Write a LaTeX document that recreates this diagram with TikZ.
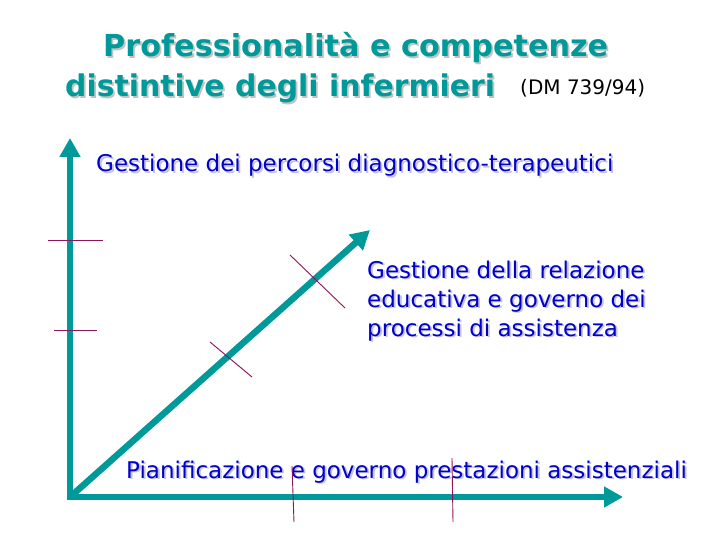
\documentclass[tikz,border=0pt]{standalone}
\usepackage{fontspec}
\setmainfont{DejaVu Sans}
\usetikzlibrary{arrows.meta}
\definecolor{teal1}{RGB}{0,153,153}
\definecolor{blue1}{RGB}{0,0,204}
\definecolor{tick1}{RGB}{140,20,90}
\definecolor{shadowT}{RGB}{195,195,195}
\definecolor{shadowB}{RGB}{195,195,220}
\newcommand{\shd}[2]{\makebox[0pt][l]{\hspace*{1.8pt}\raisebox{-1.8pt}{\color{#1}#2}}#2}
\begin{document}
\begin{tikzpicture}[x=1pt,y=-1pt,
  axis/.style={draw=teal1, line width=6.5pt},
  tipped/.style={-{Triangle[length=19pt,width=20pt]}},
  tickline/.style={draw=tick1, line width=0.9pt},
  bluetext/.style={anchor=base west, inner sep=0pt, text=blue1, font=\fontsize{23}{28}\selectfont},
  titletext/.style={anchor=base west, inner sep=0pt, text=teal1, font=\fontsize{31}{36}\selectfont\bfseries}]
\useasboundingbox[fill=white] (0,0) rectangle (720,540);

% title
\node[titletext] (title1) at (103,57) {\resizebox{505pt}{!}{\shd{shadowT}{Professionalità e competenze}}};
\node[titletext] (title2) at (65,97) {\resizebox{430pt}{!}{\shd{shadowT}{distintive degli infermieri}}};
\node[anchor=base west, inner sep=0pt, text=black, font=\fontsize{20}{24}\selectfont] (dm) at (520,95) {(DM 739/94)};

% axes
\coordinate (O) at (70,497);
\coordinate (Ytip) at (70,138);
\coordinate (Xtip) at (623,497);
\coordinate (Dtip) at (370,230);
\draw[axis, tipped, line cap=rect] (O) -- (Ytip);
\draw[axis, tipped, line cap=rect] (O) -- (Xtip);
\draw[axis, tipped] (O) -- (Dtip);

% labels
\node[bluetext] (lab1) at (96,172) {\shd{shadowB}{Gestione dei percorsi diagnostico-terapeutici}};
\node[bluetext] (lab2a) at (367,278) {\shd{shadowB}{Gestione della relazione}};
\node[bluetext] (lab2b) at (367,307) {\shd{shadowB}{educativa e governo dei}};
\node[bluetext] (lab2c) at (367,336) {\shd{shadowB}{processi di assistenza}};
\node[bluetext] (lab3) at (126,478) {\shd{shadowB}{Pianificazione e governo prestazioni assistenziali}};

% ticks
\coordinate (v1a) at (48,240);  \coordinate (v1b) at (103,240);
\coordinate (v2a) at (54,330);  \coordinate (v2b) at (97,330);
\coordinate (d1a) at (290,255); \coordinate (d1b) at (345,308);
\coordinate (d2a) at (210,342); \coordinate (d2b) at (252,377);
\coordinate (h1a) at (292,466); \coordinate (h1b) at (294,522);
\coordinate (h2a) at (452,458); \coordinate (h2b) at (453,522);
\draw[tickline] (v1a) -- (v1b);
\draw[tickline] (v2a) -- (v2b);
\draw[tickline] (d1a) -- (d1b);
\draw[tickline] (d2a) -- (d2b);
\draw[tickline] (h1a) -- (h1b);
\draw[tickline] (h2a) -- (h2b);
\end{tikzpicture}
\end{document}
